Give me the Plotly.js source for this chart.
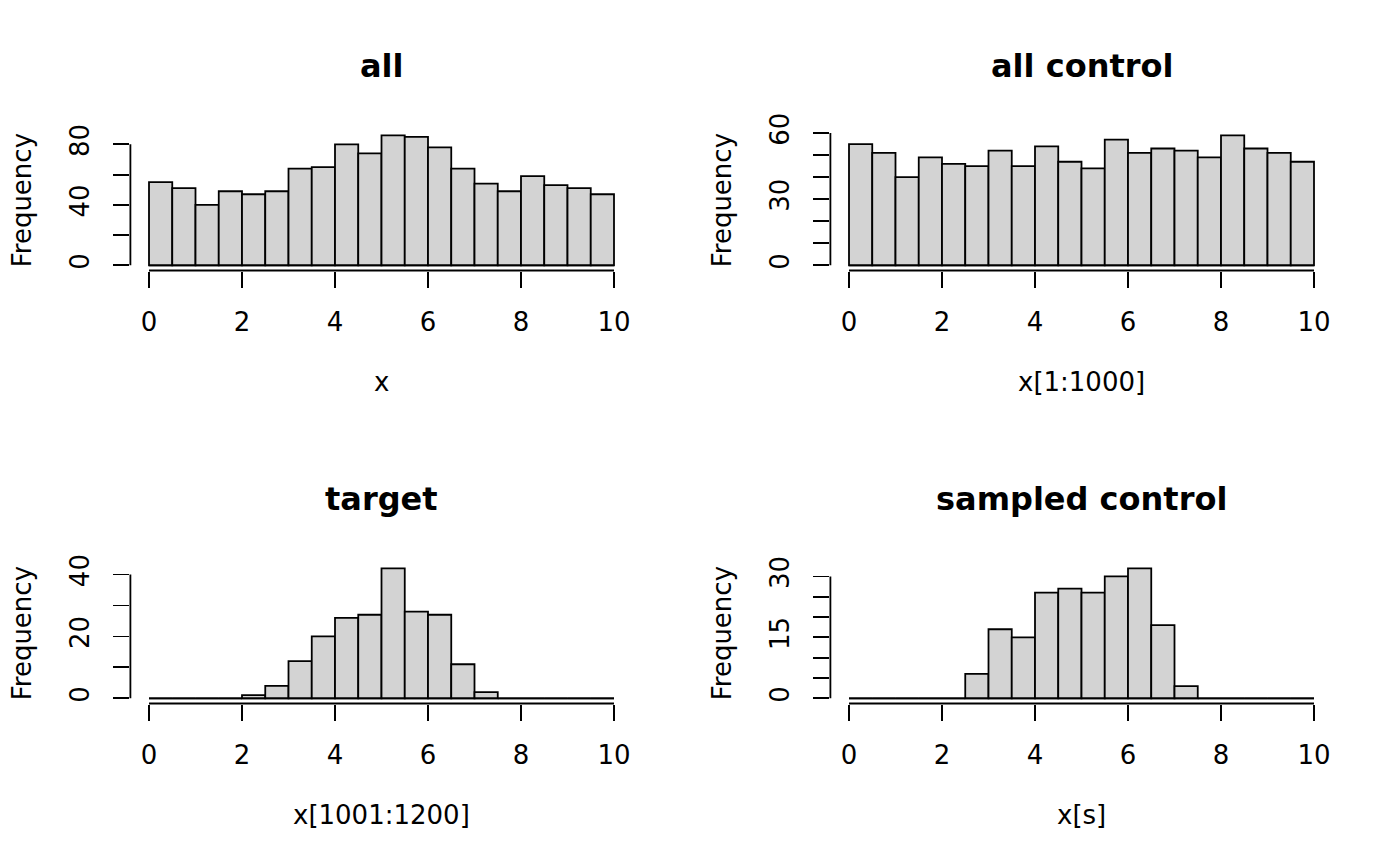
<!DOCTYPE html>
<html>
<head>
<meta charset="utf-8">
<script src="https://cdn.plot.ly/plotly-3.0.1.min.js"></script>
<style>
    html, body { margin: 0; padding: 0; background: #ffffff; }
    #chart { width: 1400px; height: 866px; }
</style>
</head>
<body>
<div id="chart"></div>
<script>
// Histogram counts (breaks every 0.5 from 0 to 10)
var binStarts = [0, 0.5, 1, 1.5, 2, 2.5, 3, 3.5, 4, 4.5, 5, 5.5, 6, 6.5, 7, 7.5, 8, 8.5, 9, 9.5];
var binWidth = 0.5;
var xTicks = [0, 2, 4, 6, 8, 10];

var countsAll = [55, 51, 40, 49, 47, 49, 64, 65, 80, 74, 86, 85, 78, 64, 54, 49, 59, 53, 51, 47];
var countsControl = [55, 51, 40, 49, 46, 45, 52, 45, 54, 47, 44, 57, 51, 53, 52, 49, 59, 53, 51, 47];
var countsTarget = [0, 0, 0, 0, 1, 4, 12, 20, 26, 27, 42, 28, 27, 11, 2, 0, 0, 0, 0, 0];
var countsSampled = [0, 0, 0, 0, 0, 6, 17, 15, 26, 27, 26, 30, 32, 18, 3, 0, 0, 0, 0, 0];

var yTicksAll = [0, 20, 40, 60, 80];
var yLabelsAll = ['0', '', '40', '', '80'];
var yTicksControl = [0, 10, 20, 30, 40, 50, 60];
var yLabelsControl = ['0', '', '', '30', '', '', '60'];
var yTicksTarget = [0, 10, 20, 30, 40];
var yLabelsTarget = ['0', '', '20', '', '40'];
var yTicksSampled = [0, 5, 10, 15, 20, 25, 30];
var yLabelsSampled = ['0', '', '', '15', '', '', '30'];

var panelTitles = ['all', 'all control', 'target', 'sampled control'];
var xTitles = ['x', 'x[1:1000]', 'x[1001:1200]', 'x[s]'];
var yTitle = 'Frequency';

(function() {
    'use strict';

    var W = 1400, H = 866;
    var FONT = 'DejaVu Sans, Liberation Sans, sans-serif';
    var TEXT_SIZE = 26;
    var MAIN_SIZE = 32;
    var LW = 1.8;

    // plot regions in pixels (R's mfrow 2x2 layout)
    var regionLeft = 130.4, regionRight = 632.6, colShift = 700;
    var regionTop = 130.1, regionBottom = 270.5, rowShift = 433;

    var panels = [
        { counts: countsAll, ticks: yTicksAll, labels: yLabelsAll },
        { counts: countsControl, ticks: yTicksControl, labels: yLabelsControl },
        { counts: countsTarget, ticks: yTicksTarget, labels: yLabelsTarget },
        { counts: countsSampled, ticks: yTicksSampled, labels: yLabelsSampled }
    ];

    var centers = binStarts.map(function(b) { return b + binWidth / 2; });
    var xMin = binStarts[0];
    var xMax = binStarts[binStarts.length - 1] + binWidth;

    var traces = [];
    var shapes = [];
    var annotations = [];
    var layout = {
        width: W,
        height: H,
        margin: { t: 0, r: 0, b: 0, l: 0 },
        paper_bgcolor: '#ffffff',
        plot_bgcolor: '#ffffff',
        showlegend: false,
        font: { family: FONT, size: TEXT_SIZE, color: '#000000' }
    };

    panels.forEach(function(p, i) {
        var row = Math.floor(i / 2);
        var col = i % 2;
        var suffix = i === 0 ? '' : String(i + 1);
        var xId = 'x' + suffix, yId = 'y' + suffix;

        var x0 = (regionLeft + col * colShift) / W;
        var x1 = (regionRight + col * colShift) / W;
        var y0 = 1 - (regionBottom + row * rowShift) / H;
        var y1 = 1 - (regionTop + row * rowShift) / H;

        // R pads each axis range by 4%
        var xPad = (xMax - xMin) * 0.04;
        var yMax = Math.max.apply(null, p.counts);
        var yPad = yMax * 0.04;

        layout['xaxis' + suffix] = {
            domain: [x0, x1],
            anchor: yId,
            range: [xMin - xPad, xMax + xPad],
            showgrid: false,
            zeroline: false,
            showline: false,
            ticks: 'outside',
            ticklen: 16,
            tickwidth: LW,
            tickcolor: '#000000',
            tickvals: xTicks,
            ticktext: xTicks.map(String),
            ticklabelstandoff: 12,
            tickfont: { family: FONT, size: TEXT_SIZE, color: '#000000' }
        };
        layout['yaxis' + suffix] = {
            domain: [y0, y1],
            anchor: xId,
            range: [-yPad, yMax + yPad],
            showgrid: false,
            zeroline: false,
            showline: false,
            ticks: 'outside',
            ticklen: 16,
            tickwidth: LW,
            tickcolor: '#000000',
            tickvals: p.ticks,
            ticktext: p.labels,
            tickangle: -90,
            ticklabelstandoff: 14,
            tickfont: { family: FONT, size: TEXT_SIZE, color: '#000000' }
        };

        // baseline under empty bins
        traces.push({
            type: 'scatter',
            mode: 'lines',
            x: [xMin, xMax],
            y: [0, 0],
            line: { color: '#000000', width: LW },
            xaxis: xId,
            yaxis: yId,
            hoverinfo: 'skip'
        });
        traces.push({
            type: 'bar',
            x: centers,
            y: p.counts,
            width: binWidth,
            marker: { color: '#d3d3d3', line: { color: '#000000', width: LW } },
            xaxis: xId,
            yaxis: yId
        });

        // R style axis lines that only span the tick range
        shapes.push({
            type: 'line', xref: xId, yref: yId + ' domain',
            x0: xTicks[0], x1: xTicks[xTicks.length - 1], y0: 0, y1: 0,
            line: { color: '#000000', width: LW }
        });
        shapes.push({
            type: 'line', xref: xId + ' domain', yref: yId,
            x0: 0, x1: 0, y0: p.ticks[0], y1: p.ticks[p.ticks.length - 1],
            line: { color: '#000000', width: LW }
        });

        annotations.push({
            text: '<b>' + panelTitles[i] + '</b>',
            xref: 'paper', yref: 'paper',
            x: (x0 + x1) / 2, y: 1 - (66 + row * rowShift) / H,
            xanchor: 'center', yanchor: 'middle', showarrow: false,
            font: { family: FONT, size: MAIN_SIZE, color: '#000000' }
        });
        annotations.push({
            text: xTitles[i],
            xref: 'paper', yref: 'paper',
            x: (x0 + x1) / 2, y: 1 - (382 + row * rowShift) / H,
            xanchor: 'center', yanchor: 'middle', showarrow: false,
            font: { family: FONT, size: TEXT_SIZE, color: '#000000' }
        });
        annotations.push({
            text: yTitle,
            xref: 'paper', yref: 'paper',
            x: (22 + col * colShift) / W, y: (y0 + y1) / 2,
            xanchor: 'center', yanchor: 'middle', textangle: -90, showarrow: false,
            font: { family: FONT, size: TEXT_SIZE, color: '#000000' }
        });
    });

    layout.shapes = shapes;
    layout.annotations = annotations;
    layout.bargap = 0;

    Plotly.newPlot('chart', traces, layout, { displayModeBar: false, staticPlot: true });
})();
</script>
</body>
</html>
